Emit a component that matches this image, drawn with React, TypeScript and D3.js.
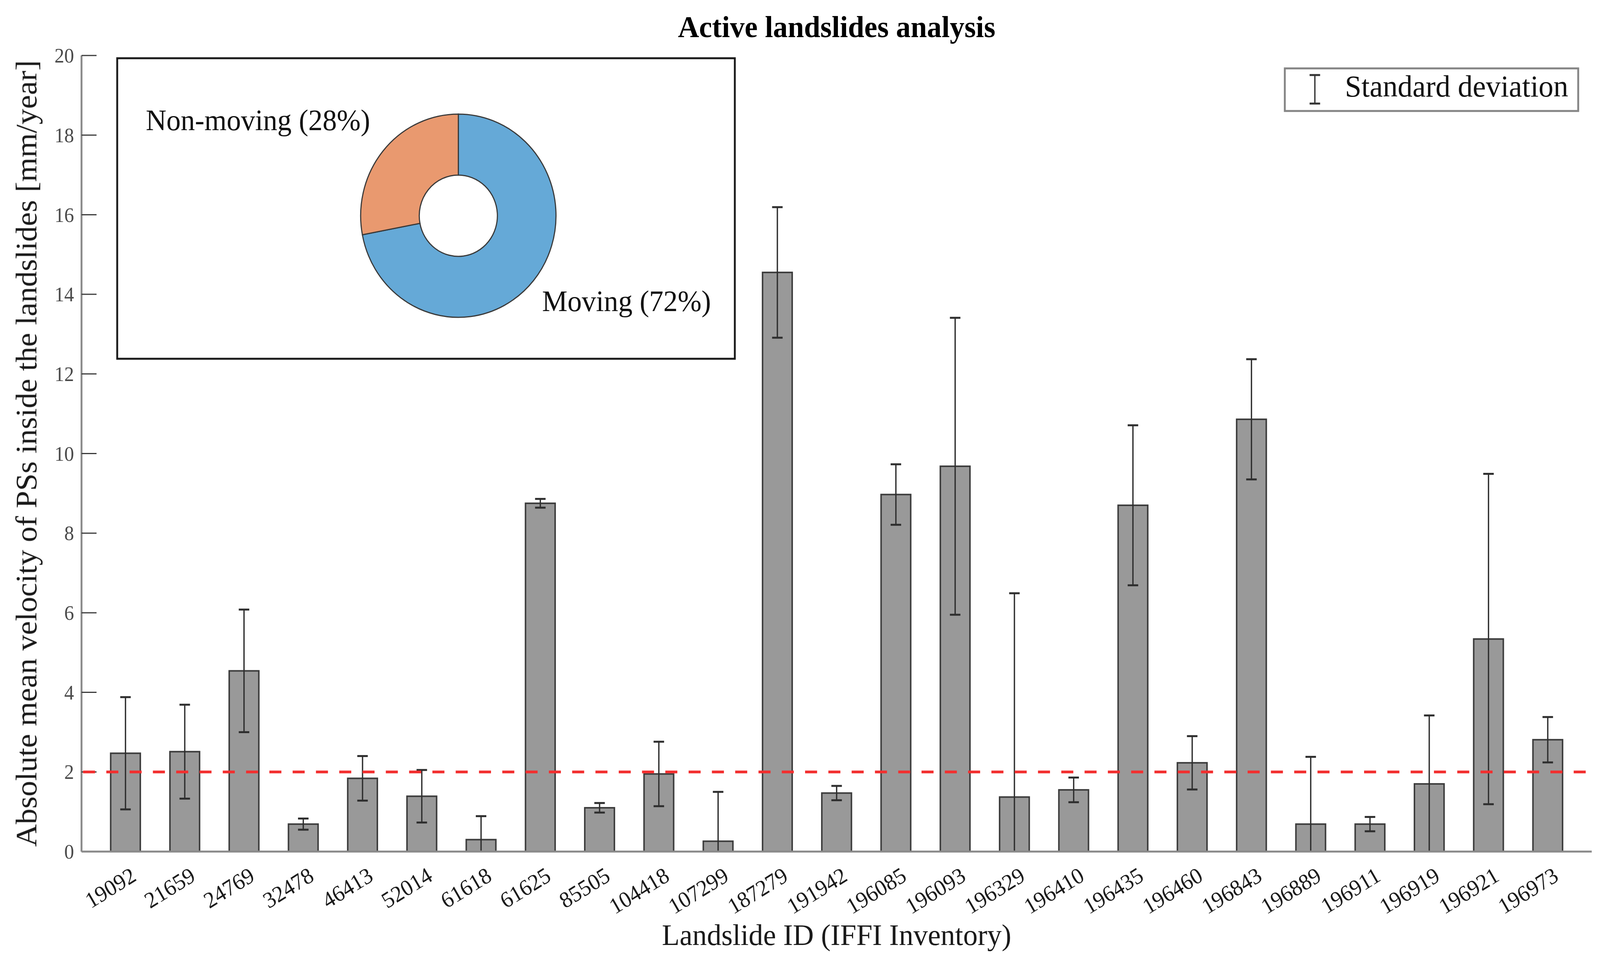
import { useEffect, useRef } from "react";
import * as d3 from "d3";

// Landslides (IFFI inventory IDs) and the mean |velocity| of the PSs inside each one.
const landslideIds = [
  "19092", "21659", "24769", "32478", "46413", "52014", "61618", "61625", "85505",
  "104418", "107299", "187279", "191942", "196085", "196093", "196329", "196410",
  "196435", "196460", "196843", "196889", "196911", "196919", "196921", "196973",
];
const meanVelocity = [
  2.47, 2.51, 4.54, 0.69, 1.84, 1.39, 0.3, 8.75, 1.1, 1.95, 0.26, 14.55, 1.47,
  8.97, 9.68, 1.37, 1.55, 8.7, 2.23, 10.86, 0.69, 0.69, 1.7, 5.34, 2.81,
];
const stdDeviation = [
  1.41, 1.18, 1.54, 0.14, 0.56, 0.66, 0.59, 0.11, 0.12, 0.81, 1.24, 1.64, 0.18,
  0.76, 3.73, 5.12, 0.31, 2.01, 0.67, 1.51, 1.69, 0.18, 1.72, 4.15, 0.57,
];
const yTicks = [0, 2, 4, 6, 8, 10, 12, 14, 16, 18, 20];
const movingThreshold = 2;

// Inset donut: share of moving / non-moving landslides.
const pieNames = ["Moving", "Non-moving"];
const pieShares = [72, 28];
const pieColors = ["#65a9d7", "#e9996f"];

const WIDTH = 4259;
const HEIGHT = 2459;
const PLOT = { left: 217, right: 4237, top: 142, bottom: 2179 };
const INSET = { x: 312, y: 149, w: 1644, h: 769 };
const SERIF = '"Liberation Serif", "Times New Roman", serif';
const LABEL_ROT = 31;

export default function App() {
  const svgRef = useRef<SVGSVGElement | null>(null);

  useEffect(() => {
    const svgEl = svgRef.current;
    if (!svgEl) return;
    const svg = d3.select(svgEl);
    svg.selectAll("*").remove();

    const x = d3.scalePoint<string>().domain(landslideIds).range([PLOT.left, PLOT.right]).padding(0.742);
    const y = d3.scaleLinear().domain([0, 20]).range([PLOT.bottom, PLOT.top]);
    const barW = x.step() * 0.5;

    svg.append("rect").attr("width", WIDTH).attr("height", HEIGHT).attr("fill", "#fff");

    svg
      .append("clipPath")
      .attr("id", "plot-clip")
      .append("rect")
      .attr("x", PLOT.left)
      .attr("y", PLOT.top - 20)
      .attr("width", PLOT.right - PLOT.left)
      .attr("height", PLOT.bottom - PLOT.top + 20);

    // Title
    svg
      .append("text")
      .attr("x", (PLOT.left + PLOT.right) / 2)
      .attr("y", 95)
      .attr("text-anchor", "middle")
      .attr("font-family", SERIF)
      .attr("font-weight", "bold")
      .attr("font-size", 78)
      .attr("fill", "#000")
      .text("Active landslides analysis");

    // Y axis: line, inward ticks, labels
    const gy = svg.append("g");
    gy.append("line")
      .attr("x1", PLOT.left)
      .attr("x2", PLOT.left)
      .attr("y1", PLOT.top)
      .attr("y2", PLOT.bottom)
      .attr("stroke", "#8a8a8a")
      .attr("stroke-width", 5);
    gy.selectAll("line.tick")
      .data(yTicks)
      .join("line")
      .attr("class", "tick")
      .attr("x1", PLOT.left)
      .attr("x2", PLOT.left + 40)
      .attr("y1", (d) => y(d))
      .attr("y2", (d) => y(d))
      .attr("stroke", "#3a3a3a")
      .attr("stroke-width", 3);
    gy.selectAll("text")
      .data(yTicks)
      .join("text")
      .attr("x", PLOT.left - 20)
      .attr("y", (d) => y(d))
      .attr("dy", "0.35em")
      .attr("text-anchor", "end")
      .attr("font-family", SERIF)
      .attr("font-size", 52)
      .attr("fill", "#4a4a4a")
      .text((d) => String(d));

    svg
      .append("text")
      .attr("transform", `translate(97, ${(PLOT.top + PLOT.bottom) / 2}) rotate(-90)`)
      .attr("text-anchor", "middle")
      .attr("font-family", SERIF)
      .attr("font-size", 80)
      .attr("fill", "#1a1a1a")
      .text("Absolute mean velocity of PSs inside the landslides [mm/year]");

    // Bars
    const rows = landslideIds.map((id, i) => ({ id, mean: meanVelocity[i], sd: stdDeviation[i] }));
    svg
      .append("g")
      .selectAll("rect")
      .data(rows)
      .join("rect")
      .attr("x", (d) => (x(d.id) ?? 0) - barW / 2)
      .attr("y", (d) => y(d.mean))
      .attr("width", barW)
      .attr("height", (d) => y(0) - y(d.mean))
      .attr("fill", "#999999")
      .attr("stroke", "#3c3c3c")
      .attr("stroke-width", 4);

    // Error bars (clipped to the axes, as in the source figure)
    const gErr = svg.append("g").attr("clip-path", "url(#plot-clip)").attr("stroke", "#2e2e2e");
    const capHalf = 14;
    rows.forEach((d) => {
      const cx = x(d.id) ?? 0;
      const lo = y(d.mean - d.sd);
      const hi = y(d.mean + d.sd);
      gErr.append("line").attr("x1", cx).attr("x2", cx).attr("y1", lo).attr("y2", hi).attr("stroke-width", 3.5);
      gErr.append("line").attr("x1", cx - capHalf).attr("x2", cx + capHalf).attr("y1", hi).attr("y2", hi).attr("stroke-width", 5);
      gErr.append("line").attr("x1", cx - capHalf).attr("x2", cx + capHalf).attr("y1", lo).attr("y2", lo).attr("stroke-width", 5);
    });

    // X axis baseline
    svg
      .append("line")
      .attr("x1", PLOT.left)
      .attr("x2", PLOT.right)
      .attr("y1", PLOT.bottom)
      .attr("y2", PLOT.bottom)
      .attr("stroke", "#8a8a8a")
      .attr("stroke-width", 5);

    // Threshold line at 2 mm/year
    svg
      .append("line")
      .attr("x1", PLOT.left + 4)
      .attr("x2", PLOT.right)
      .attr("y1", y(movingThreshold))
      .attr("y2", y(movingThreshold))
      .attr("stroke", "#f22f2f")
      .attr("stroke-width", 7)
      .attr("stroke-dasharray", "32 30");

    // Rotated category labels
    svg
      .append("g")
      .selectAll("text")
      .data(landslideIds)
      .join("text")
      .attr("transform", (d) => `translate(${(x(d) ?? 0) + 32}, ${PLOT.bottom + 72}) rotate(${-LABEL_ROT})`)
      .attr("text-anchor", "end")
      .attr("font-family", SERIF)
      .attr("font-size", 58)
      .attr("fill", "#1a1a1a")
      .text((d) => d);

    svg
      .append("text")
      .attr("x", (PLOT.left + PLOT.right) / 2)
      .attr("y", 2418)
      .attr("text-anchor", "middle")
      .attr("font-family", SERIF)
      .attr("font-size", 77)
      .attr("fill", "#1a1a1a")
      .text("Landslide ID (IFFI Inventory)");

    // Legend
    const gLeg = svg.append("g");
    gLeg
      .append("rect")
      .attr("x", 3420)
      .attr("y", 175)
      .attr("width", 781)
      .attr("height", 109)
      .attr("fill", "#fff")
      .attr("stroke", "#858585")
      .attr("stroke-width", 5);
    const lx = 3500;
    const gIcon = gLeg.append("g").attr("stroke", "#333");
    gIcon.append("line").attr("x1", lx).attr("x2", lx).attr("y1", 192).attr("y2", 265).attr("stroke-width", 3.5);
    gIcon.append("line").attr("x1", lx - capHalf).attr("x2", lx + capHalf).attr("y1", 192).attr("y2", 192).attr("stroke-width", 5);
    gIcon.append("line").attr("x1", lx - capHalf).attr("x2", lx + capHalf).attr("y1", 265).attr("y2", 265).attr("stroke-width", 5);
    gLeg
      .append("text")
      .attr("x", 3580)
      .attr("y", 247)
      .attr("font-family", SERIF)
      .attr("font-size", 79)
      .attr("fill", "#111")
      .text("Standard deviation");

    // Inset with the donut chart
    const gIn = svg.append("g");
    gIn
      .append("rect")
      .attr("x", INSET.x)
      .attr("y", INSET.y)
      .attr("width", INSET.w)
      .attr("height", INSET.h)
      .attr("fill", "#fff")
      .attr("stroke", "#1a1a1a")
      .attr("stroke-width", 5);

    const pieData = d3
      .pie<number>()
      .sort(null)
      .value((d) => d)(pieShares);
    const arc = d3.arc<d3.PieArcDatum<number>>().innerRadius(104).outerRadius(260);
    gIn
      .append("g")
      .attr("transform", "translate(1220, 552)")
      .selectAll("path")
      .data(pieData)
      .join("path")
      .attr("d", arc)
      .attr("fill", (_, i) => pieColors[i])
      .attr("stroke", "#3a3a3a")
      .attr("stroke-width", 3);

    const pieText = pieNames.map((name, i) => `${name} (${pieShares[i]}%)`);
    gIn
      .append("text")
      .attr("x", 388)
      .attr("y", 333)
      .attr("font-family", SERIF)
      .attr("font-size", 76)
      .attr("fill", "#111")
      .text(pieText[1]);
    gIn
      .append("text")
      .attr("x", 1443)
      .attr("y", 796)
      .attr("font-family", SERIF)
      .attr("font-size", 76)
      .attr("fill", "#111")
      .text(pieText[0]);
  }, []);

  return (
    <svg
      ref={svgRef}
      viewBox={`0 0 ${WIDTH} ${HEIGHT}`}
      preserveAspectRatio="none"
      style={{ position: "fixed", left: 0, top: 0, width: "100vw", height: "100vh", display: "block" }}
    />
  );
}
